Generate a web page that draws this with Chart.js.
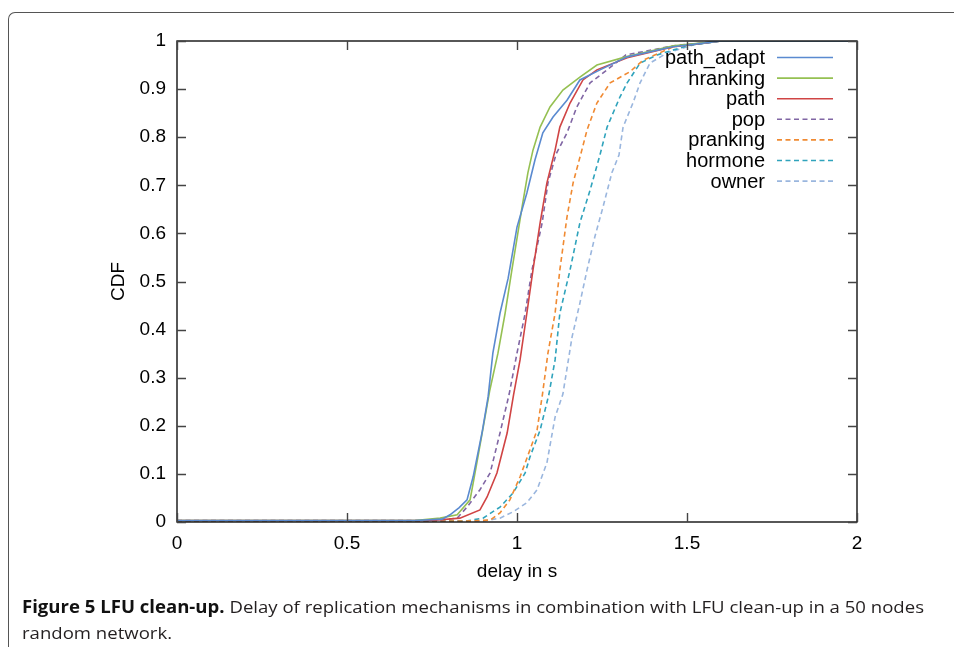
<!DOCTYPE html>
<html>
<head>
<meta charset="utf-8">
<script src="https://cdn.jsdelivr.net/npm/chart.js@4.4.0/dist/chart.umd.min.js"></script>
<style>
  html, body { margin: 0; padding: 0; background: #fff; }
  body { width: 954px; height: 647px; position: relative; overflow: hidden; }
  #frame {
    position: absolute; left: 8px; top: 12px; width: 1000px; height: 700px;
    border-top: 1.5px solid #555; border-left: 1.5px solid #555;
    border-top-left-radius: 7px;
  }
  #chart { position: absolute; left: 0; top: 0; }
  #caption {
    position: absolute; left: 22px; top: 594px;
    font-family: "Open Sans", sans-serif; font-size: 17px; line-height: 26px;
    color: #231f20; white-space: nowrap; transform-origin: 0 0;
  }
  #caption b { font-weight: 700; color: #111; }
</style>
</head>
<body>
<div id="frame"></div>
<canvas id="chart" width="954" height="647"></canvas>
<div id="caption"><span id="capLine"><b>Figure 5 LFU clean-up.</b> Delay of replication mechanisms in combination with LFU clean-up in a 50 nodes</span><br>random network.</div>
<script>
// CDF points [delay in s, CDF]
const pathAdapt = [[0, 0.003], [0.7, 0.003], [0.78, 0.006], [0.803, 0.015], [0.83, 0.03], [0.853, 0.046], [0.871, 0.094], [0.897, 0.185], [0.915, 0.26], [0.929, 0.351], [0.95, 0.434], [0.974, 0.507], [1.0, 0.613], [1.029, 0.684], [1.053, 0.753], [1.076, 0.809], [1.106, 0.842], [1.147, 0.877], [1.185, 0.919], [1.244, 0.94], [1.324, 0.967], [1.459, 0.988], [1.6, 1], [2, 1]];
const hranking = [[0, 0.003], [0.7, 0.003], [0.774, 0.008], [0.824, 0.015], [0.862, 0.046], [0.885, 0.135], [0.92, 0.274], [0.944, 0.351], [0.965, 0.434], [0.985, 0.524], [1.015, 0.655], [1.032, 0.726], [1.047, 0.773], [1.068, 0.821], [1.097, 0.863], [1.135, 0.898], [1.185, 0.925], [1.235, 0.95], [1.32, 0.967], [1.46, 0.99], [1.6, 1], [2, 1]];
const path = [[0, 0.003], [0.75, 0.003], [0.832, 0.008], [0.891, 0.025], [0.912, 0.052], [0.941, 0.102], [0.971, 0.185], [0.99, 0.265], [1.009, 0.337], [1.029, 0.434], [1.047, 0.524], [1.068, 0.622], [1.088, 0.705], [1.112, 0.773], [1.126, 0.821], [1.156, 0.871], [1.194, 0.919], [1.235, 0.94], [1.324, 0.965], [1.46, 0.988], [1.6, 1], [2, 1]];
const pop = [[0, 0.003], [0.75, 0.003], [0.824, 0.008], [0.853, 0.031], [0.891, 0.067], [0.921, 0.102], [0.95, 0.185], [0.977, 0.266], [1.0, 0.351], [1.024, 0.434], [1.044, 0.524], [1.074, 0.622], [1.091, 0.705], [1.115, 0.765], [1.147, 0.809], [1.176, 0.863], [1.215, 0.913], [1.265, 0.94], [1.32, 0.971], [1.46, 0.99], [1.6, 1], [2, 1]];
const pranking = [[0, 0.002], [0.85, 0.002], [0.921, 0.004], [0.95, 0.019], [0.979, 0.046], [1.009, 0.094], [1.038, 0.15], [1.059, 0.191], [1.075, 0.266], [1.091, 0.351], [1.112, 0.434], [1.126, 0.524], [1.147, 0.634], [1.165, 0.705], [1.188, 0.766], [1.206, 0.815], [1.235, 0.871], [1.274, 0.913], [1.332, 0.936], [1.371, 0.96], [1.46, 0.988], [1.6, 1], [2, 1]];
const hormone = [[0, 0.002], [0.85, 0.002], [0.9, 0.008], [0.95, 0.031], [0.988, 0.06], [1.024, 0.102], [1.038, 0.135], [1.068, 0.191], [1.094, 0.266], [1.112, 0.337], [1.126, 0.434], [1.156, 0.524], [1.185, 0.622], [1.215, 0.69], [1.244, 0.763], [1.265, 0.821], [1.303, 0.884], [1.324, 0.913], [1.362, 0.954], [1.412, 0.971], [1.5, 0.99], [1.6, 1], [2, 1]];
const owner = [[0, 0.002], [0.9, 0.002], [0.95, 0.008], [0.988, 0.021], [1.029, 0.04], [1.059, 0.067], [1.088, 0.123], [1.112, 0.218], [1.135, 0.266], [1.162, 0.385], [1.185, 0.455], [1.206, 0.524], [1.229, 0.593], [1.253, 0.655], [1.279, 0.726], [1.3, 0.763], [1.312, 0.821], [1.341, 0.871], [1.362, 0.913], [1.391, 0.954], [1.441, 0.975], [1.52, 0.992], [1.6, 1], [2, 1]];

const seriesNames = ['path_adapt', 'hranking', 'path', 'pop', 'pranking', 'hormone', 'owner'];
const seriesColors = ['#5a8ad0', '#95c052', '#d04444', '#8066a4', '#f08a32', '#2fa3bc', '#9ab6de'];
const seriesDashed = [false, false, false, true, true, true, true];
const xTickLabels = ['0', '0.5', '1', '1.5', '2'];
const yTickLabels = ['0', '0.1', '0.2', '0.3', '0.4', '0.5', '0.6', '0.7', '0.8', '0.9', '1'];

const seriesData = [pathAdapt, hranking, path, pop, pranking, hormone, owner];

Chart.defaults.font.family = '"Liberation Sans", Arial, sans-serif';
Chart.defaults.color = '#000';

// gnuplot style box with inward ticks + right aligned key
const gnuplotLook = {
  id: 'gnuplotLook',
  afterDraw(chart) {
    const { ctx, chartArea: a, scales } = chart;
    ctx.save();
    ctx.strokeStyle = '#111';
    ctx.lineWidth = 1.4;
    ctx.strokeRect(a.left, a.top, a.right - a.left, a.bottom - a.top);

    ctx.strokeStyle = '#444';
    ctx.lineWidth = 1.4;
    ctx.beginPath();
    scales.x.ticks.forEach(t => {
      const px = Math.round(scales.x.getPixelForValue(t.value)) + 0.5;
      ctx.moveTo(px, a.bottom); ctx.lineTo(px, a.bottom - 9);
      ctx.moveTo(px, a.top); ctx.lineTo(px, a.top + 9);
    });
    scales.y.ticks.forEach(t => {
      const py = Math.round(scales.y.getPixelForValue(t.value)) + 0.5;
      ctx.moveTo(a.left, py); ctx.lineTo(a.left + 9, py);
      ctx.moveTo(a.right, py); ctx.lineTo(a.right - 9, py);
    });
    ctx.stroke();

    // key
    const textRight = a.right - 92;
    const lineX0 = a.right - 80, lineX1 = a.right - 24;
    ctx.font = '20px "Liberation Sans", Arial, sans-serif';
    ctx.textAlign = 'right';
    ctx.textBaseline = 'middle';
    chart.data.datasets.forEach((ds, i) => {
      const y = a.top + 16.5 + i * 20.6;
      ctx.fillStyle = '#000';
      ctx.fillText(ds.label, textRight, y + 1);
      ctx.strokeStyle = ds.borderColor;
      ctx.lineWidth = 1.6;
      ctx.setLineDash(ds.borderDash || []);
      ctx.beginPath();
      ctx.moveTo(lineX0, y); ctx.lineTo(lineX1, y);
      ctx.stroke();
      ctx.setLineDash([]);
    });
    ctx.restore();
  }
};

new Chart(document.getElementById('chart'), {
  type: 'line',
  data: {
    datasets: seriesData.map((pts, i) => ({
      label: seriesNames[i],
      data: pts.map(([x, y]) => ({ x, y })),
      borderColor: seriesColors[i],
      borderWidth: 1.6,
      borderDash: seriesDashed[i] ? [5, 3.5] : [],
      pointRadius: 0,
      tension: 0,
      fill: false
    }))
  },
  options: {
    responsive: false,
    animation: false,
    layout: { padding: { left: 107, top: 41, right: 97, bottom: 64 } },
    plugins: { legend: { display: false }, tooltip: { enabled: false } },
    scales: {
      x: {
        type: 'linear', min: 0, max: 2,
        afterFit: s => { s.height = 647 - 64 - 522; },
        grid: { display: false },
        border: { display: false },
        ticks: {
          stepSize: 0.5, padding: 2, maxRotation: 0,
          font: { size: 19 },
          callback: (v) => xTickLabels[Math.round(v * 2)]
        },
        title: { display: true, text: 'delay in s', font: { size: 19 }, padding: 0 }
      },
      y: {
        type: 'linear', min: 0, max: 1,
        afterFit: s => { s.width = 177 - 107; },
        grid: { display: false },
        border: { display: false },
        ticks: {
          stepSize: 0.1, padding: 3, autoSkip: false,
          font: { size: 19 },
          callback: (v) => yTickLabels[Math.round(v * 10)]
        },
        title: { display: true, text: 'CDF', font: { size: 19 }, padding: 0 }
      }
    }
  },
  plugins: [gnuplotLook]
});

// stretch the caption so the first line spans like the original
const cap = document.getElementById('caption');
const lineW = document.getElementById('capLine').getBoundingClientRect().width;
cap.style.transform = `scaleX(${902 / lineW})`;
</script>
</body>
</html>
